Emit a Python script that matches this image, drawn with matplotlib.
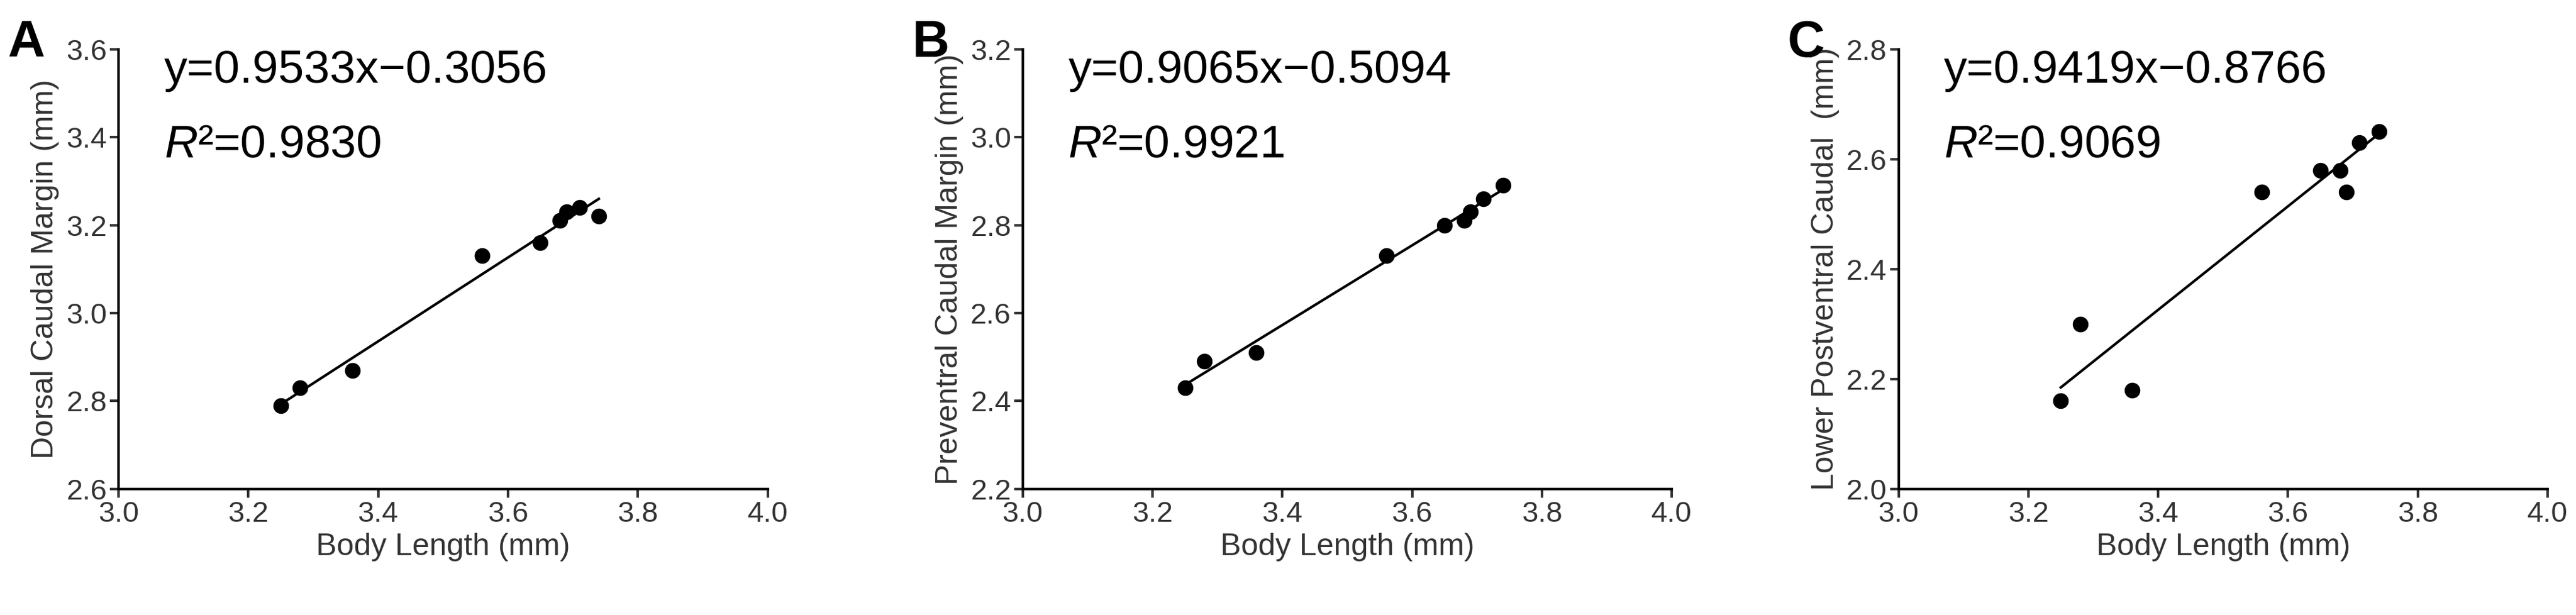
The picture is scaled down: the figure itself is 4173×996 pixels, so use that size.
import matplotlib
matplotlib.use("Agg")
import matplotlib.pyplot as plt
import numpy as np

plt.rcParams['font.family'] = ['Liberation Sans', 'DejaVu Sans']
plt.rcParams['mathtext.fontset'] = 'custom'
plt.rcParams['mathtext.it'] = 'Liberation Sans:italic'

body_length = [3.25, 3.28, 3.36, 3.56, 3.65, 3.68, 3.69, 3.71, 3.74]
dorsal = [2.79, 2.83, 2.87, 3.13, 3.16, 3.21, 3.23, 3.24, 3.22]
preventral = [2.43, 2.49, 2.51, 2.73, 2.80, 2.81, 2.83, 2.86, 2.89]
lower_post = [2.16, 2.30, 2.18, 2.54, 2.58, 2.58, 2.54, 2.63, 2.65]
slopes = [0.9533, 0.9065, 0.9419]
intercepts = [-0.3056, -0.5094, -0.8766]
r2 = ["0.9830", "0.9921", "0.9069"]
ylabels = ["Dorsal Caudal Margin (mm)", "Preventral Caudal Margin (mm)", "Lower Postventral Caudal  (mm)"]
ylims = [(2.6, 3.6), (2.2, 3.2), (2.0, 2.8)]
letters = ["A", "B", "C"]
lefts = [0.046, 0.397, 0.737]

fig = plt.figure(figsize=(41.73, 9.96), dpi=100)
for i, ys in enumerate([dorsal, preventral, lower_post]):
    ax = fig.add_axes([lefts[i], 0.205, 0.252, 0.715])
    ax.scatter(body_length, ys, s=300, color='black', zorder=3)
    xl = np.array([min(body_length), max(body_length)])
    ax.plot(xl, slopes[i]*xl + intercepts[i], color='black', lw=3)
    ax.set_xlim(3.0, 4.0)
    ax.set_ylim(*ylims[i])
    ax.set_xticks(np.arange(3.0, 4.01, 0.2))
    ax.set_yticks(np.arange(ylims[i][0], ylims[i][1]+0.001, 0.2))
    ax.xaxis.set_major_formatter(matplotlib.ticker.FormatStrFormatter('%.1f'))
    ax.yaxis.set_major_formatter(matplotlib.ticker.FormatStrFormatter('%.1f'))
    for s in ['top', 'right']:
        ax.spines[s].set_visible(False)
    for s in ['left', 'bottom']:
        ax.spines[s].set_linewidth(3)
    ax.tick_params(width=3, length=10, labelsize=34, colors='#333333')
    ax.set_xlabel("Body Length (mm)", fontsize=36, color='#333333', labelpad=6)
    ax.set_ylabel(ylabels[i], fontsize=36, color='#333333', labelpad=8)
    ax.text(0.07, 1.0, f"y={slopes[i]}x\u2212{abs(intercepts[i])}", transform=ax.transAxes,
            fontsize=54, va='top')
    ax.text(0.07, 0.83, f"$R$\u00b2={r2[i]}", transform=ax.transAxes, fontsize=54, va='top')
    fig.text(lefts[i]-0.043, 0.93, letters[i], fontsize=60, fontweight='bold', va='center')

fig.savefig("out.png", dpi=100)
